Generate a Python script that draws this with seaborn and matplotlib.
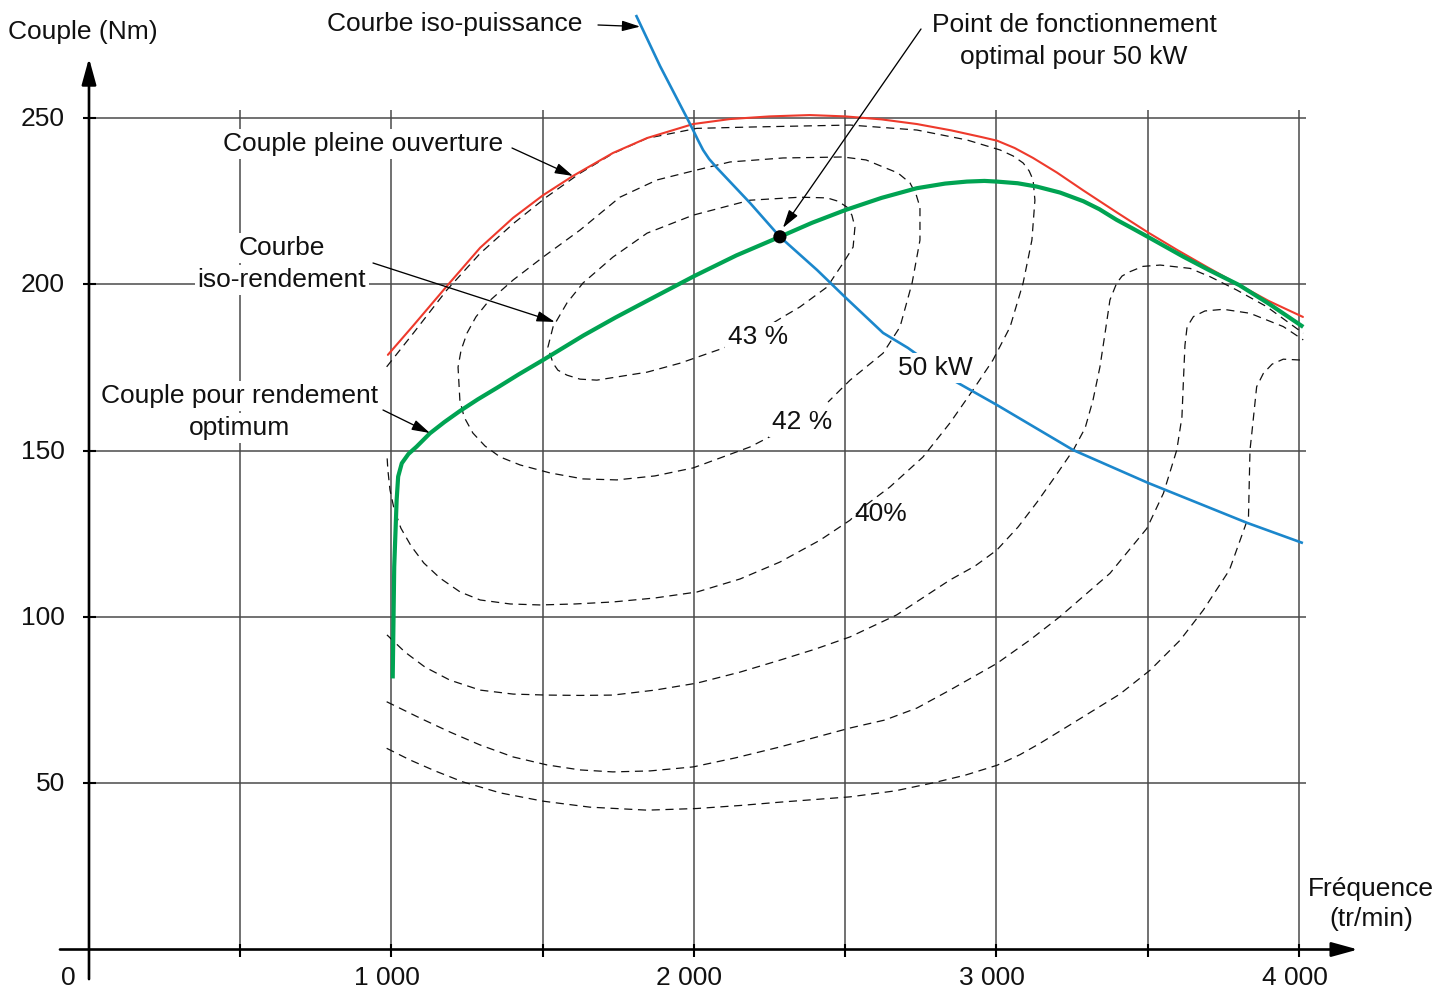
import matplotlib
matplotlib.use("Agg")
import matplotlib.pyplot as plt
from matplotlib.transforms import Affine2D, blended_transform_factory
import seaborn as sns

# ---- engine map: speed (tr/min) and torque (Nm) ----
full_load_rpm = [988, 1071, 1187, 1293, 1402, 1501, 1600, 1732, 1845, 1997, 2119, 2250,
                 2383, 2500, 2620, 2737, 2850, 2950, 3002, 3060, 3121, 3200, 3286, 3400,
                 3501, 3600, 3700, 3795, 3900, 4013]
full_load_nm = [178.8, 187.5, 199.9, 211.0, 220.0, 226.8, 232.6, 239.5, 244.0, 248.2, 249.7, 250.5,
                250.9, 250.5, 249.6, 248.2, 246.3, 244.3, 243.2, 241.0, 238.0, 233.6, 228.3, 221.5,
                215.6, 210.2, 205.0, 200.2, 195.0, 190.2]

optimum_rpm = [1004, 1009, 1017, 1022, 1034, 1056, 1083, 1127, 1175, 1226, 1285, 1349, 1420,
               1502, 1634, 1740, 1844, 2001, 2140, 2284, 2390, 2499, 2620, 2736, 2830, 2902,
               2960, 3001, 3070, 3133, 3210, 3287, 3340, 3397, 3450, 3500, 3618, 3700, 3802,
               3900, 4014]
optimum_nm = [81.5, 115.1, 135.1, 142.2, 146.2, 149.0, 151.2, 155.2, 158.6, 161.9, 165.4, 168.9, 172.9,
              177.3, 184.6, 190.0, 195.0, 202.5, 208.7, 214.3, 218.5, 222.3, 226.0, 228.9, 230.3, 230.9,
              231.1, 230.9, 230.4, 229.4, 227.6, 225.0, 222.6, 219.4, 216.8, 214.3, 208.3, 204.4, 199.8,
              194.2, 187.2]

iso_power_rpm = [1808, 1888, 1977, 1997, 2013, 2030, 2050, 2076, 2185, 2284, 2407, 2499, 2625,
                 2707, 2856, 3002, 3253, 3501, 3828, 4013]
iso_power_nm = [281.0, 265.6, 250.0, 246.4, 243.4, 240.4, 237.7, 235.0, 224.5, 214.3, 204.3, 196.2,
                185.4, 180.9, 171.2, 163.7, 150.2, 140.3, 128.3, 122.2]

op_point_rpm = [2284]
op_point_nm = [214.3]

# iso-efficiency contours
eff43_rpm = [2169, 2096, 1954, 1845, 1679, 1623, 1580, 1550, 1534, 1517, 1534, 1580, 1633, 1732,
             1845, 1997, 2185, 2350, 2440, 2476, 2506, 2522, 2532, 2526, 2493, 2440, 2350, 2294, 2245]
eff43_nm = [183.3, 180.8, 176.3, 173.6, 171.2, 171.5, 172.7, 174.2, 176.3, 181.1, 187.2, 194.4, 200.4,
            208.2, 215.4, 220.8, 225.3, 226.2, 226.0, 225.0, 223.2, 220.8, 217.2, 211.2, 206.4, 199.2,
            193.2, 190.2, 187.5]

eff42_rpm = [2268, 2185, 1997, 1871, 1745, 1633, 1524, 1425, 1359, 1309, 1269, 1240, 1226, 1220,
             1230, 1250, 1279, 1316, 1402, 1501, 1623, 1755, 1878, 2010, 2119, 2294, 2493, 2569,
             2625, 2674, 2714, 2734, 2747, 2747, 2721, 2681, 2625, 2516, 2443]
eff42_nm = [155.0, 151.1, 144.8, 142.4, 141.2, 141.5, 143.3, 145.7, 148.1, 151.4, 155.3, 160.1, 165.2,
            175.1, 180.2, 185.4, 190.2, 194.4, 201.3, 208.2, 216.3, 226.2, 231.4, 234.4, 236.8, 238.0,
            238.3, 237.4, 235.3, 233.5, 230.5, 227.1, 223.2, 213.3, 200.4, 187.2, 179.3, 171.2, 164.6]

eff40_rpm = [984, 1072, 1183, 1293, 1403, 1513, 1623, 1733, 1844, 2009, 2185, 2516, 2737, 2903,
             3012, 3055, 3088, 3108, 3121, 3127, 3117, 3088, 3045, 2988, 2922, 2846, 2757, 2648,
             2559, 2516, 2417, 2284, 2152, 2010, 1871, 1732, 1607, 1491, 1392, 1293, 1227, 1160,
             1107, 1065, 1031, 1008, 995, 988, 985]
eff40_nm = [175.2, 185.3, 198.3, 209.3, 218.3, 226.3, 233.4, 239.4, 243.9, 246.9, 247.3, 247.9, 246.4,
            243.4, 240.4, 238.6, 236.5, 234.1, 231.4, 225.3, 213.3, 200.4, 187.2, 177.2, 168.2, 158.3,
            148.1, 139.1, 133.0, 129.1, 123.1, 116.5, 111.4, 107.5, 105.7, 104.5, 103.9, 103.6, 103.9,
            105.1, 107.5, 111.7, 116.2, 121.3, 126.7, 132.7, 138.2, 144.2, 148.7]

contour4_rpm = [985, 1045, 1111, 1193, 1293, 1402, 1514, 1623, 1732, 1871, 2010, 2152, 2284, 2400,
                2516, 2670, 2846, 2929, 3001, 3071, 3134, 3193, 3254, 3293, 3319, 3342, 3359, 3375,
                3397, 3415, 3441, 3484, 3541, 3640, 3706, 3794, 3893, 4014]
contour4_nm = [94.6, 89.4, 84.9, 81.0, 78.0, 76.8, 76.5, 76.4, 76.5, 78.0, 80.1, 83.4, 87.0, 90.3,
               94.0, 100.6, 111.1, 115.3, 120.1, 127.0, 134.5, 142.1, 150.2, 156.8, 165.2, 175.2, 185.4,
               195.3, 200.3, 202.5, 203.8, 205.4, 205.8, 204.8, 202.3, 198.3, 193.3, 185.3]

contour5_rpm = [984, 1094, 1193, 1293, 1402, 1514, 1623, 1732, 1855, 1997, 2136, 2284, 2516, 2631,
                2737, 2846, 3001, 3111, 3210, 3375, 3497, 3552, 3596, 3613, 3618, 3623, 3630, 3651,
                3689, 3750, 3838, 3948, 4014]
contour5_nm = [74.5, 69.6, 65.4, 61.5, 57.9, 55.5, 54.0, 53.4, 53.7, 54.9, 57.6, 60.9, 66.6, 69.0,
               72.6, 78.0, 86.0, 93.1, 100.1, 113.1, 126.6, 137.2, 150.2, 160.1, 171.2, 181.7, 187.2,
               190.3, 192.0, 192.5, 191.3, 187.3, 183.3]

contour6_rpm = [984, 1061, 1144, 1236, 1359, 1501, 1656, 1845, 2010, 2152, 2284, 2516, 2665, 2790,
                2896, 3002, 3078, 3144, 3287, 3408, 3508, 3607, 3684, 3770, 3833, 3838, 3844, 3860,
                3882, 3911, 3948, 4014]
contour6_nm = [60.5, 57.0, 53.7, 50.4, 47.1, 44.6, 42.8, 41.9, 42.4, 43.3, 44.3, 45.9, 47.7, 50.1,
               52.4, 55.4, 58.6, 62.0, 70.0, 76.8, 84.0, 93.0, 102.1, 114.1, 130.1, 150.2, 155.2,
               169.2, 173.2, 176.0, 177.5, 177.2]

x_grid = [500, 1000, 1500, 2000, 2500, 3000, 3500, 4000]
x_major = [1000, 2000, 3000, 4000]
x_labels = ["1 000", "2 000", "3 000", "4 000"]
y_grid = [50, 100, 150, 200, 250]
y_labels = ["50", "100", "150", "200", "250"]

# ---- styling ----
sns.set_theme(style="white")
plt.rcParams["font.family"] = ["Liberation Sans", "DejaVu Sans"]

RED = "#ee3a2c"
GREEN = "#00a352"
BLUE = "#1b87cc"
INK = "#111111"
FS = 19

W, H = 1454, 994
fig = plt.figure(figsize=(W / 100, H / 100), dpi=100, facecolor="white")
ax = fig.add_axes([0, 0, 1, 1])
page = Affine2D().scale(1, -1).translate(0, H)  # layout pixels, origin at top-left

# grid
ax.vlines(x_grid, 0, 252.4, color="#4a4a4a", lw=1.1, zorder=1)
ax.hlines(y_grid, 20, 4023, color="#4a4a4a", lw=1.1, zorder=1)

# iso-efficiency contours
dash = (0, (6.5, 4.5))
for cx, cy in [(eff43_rpm, eff43_nm), (eff42_rpm, eff42_nm), (eff40_rpm, eff40_nm),
               (contour4_rpm, contour4_nm), (contour5_rpm, contour5_nm),
               (contour6_rpm, contour6_nm)]:
    sns.lineplot(x=cx, y=cy, sort=False, estimator=None, ax=ax, color=INK,
                 lw=0.9, linestyle=dash, legend=False, zorder=2)

# main curves
sns.lineplot(x=full_load_rpm, y=full_load_nm, sort=False, estimator=None, ax=ax,
             color=RED, lw=1.5, legend=False, zorder=3)
sns.lineplot(x=optimum_rpm, y=optimum_nm, sort=False, estimator=None, ax=ax,
             color=GREEN, lw=3.0, legend=False, zorder=4, solid_capstyle="butt")
sns.lineplot(x=iso_power_rpm, y=iso_power_nm, sort=False, estimator=None, ax=ax,
             color=BLUE, lw=1.9, legend=False, zorder=4.5, solid_capstyle="butt")
sns.scatterplot(x=op_point_rpm, y=op_point_nm, ax=ax, s=90, color="black",
                edgecolor="none", zorder=6, legend=False)

# axes with arrows
axis_arrow = dict(arrowstyle="-|>,head_length=0.8,head_width=0.22", color="black",
                  lw=1.9, shrinkA=0, shrinkB=0, mutation_scale=20)
ax.annotate("", xy=(4195, 0), xytext=(-96, 0), arrowprops=axis_arrow, zorder=5)
ax.annotate("", xy=(0, 268), xytext=(0, -8.9), arrowprops=axis_arrow, zorder=5)
ax.vlines(x_grid, -2.2, 1.7, color="black", lw=1.5, zorder=5)
ax.hlines(y_grid, -20, 23, color="black", lw=1.5, zorder=5)

ax.set_xlim(-294.2, 4512.4)
ax.set_ylim(-13.38, 285.5)
ax.set_axis_off()

# tick labels
xt = blended_transform_factory(ax.transData, page)
for v, s in zip(x_major, x_labels):
    ax.text(v - 15, 985, s, transform=xt, fontsize=FS, ha="center", va="baseline", color=INK)
yt = blended_transform_factory(page, ax.transData)
for v, s in zip(y_grid, y_labels):
    ax.text(65, v - 0.3, s, transform=yt, fontsize=FS, ha="right", va="center", color=INK)
ax.text(68, 985, "0", transform=page, fontsize=FS, ha="center", va="baseline", color=INK)


def label(x, y, s, ha="center", bg=False):
    kw = dict(transform=page, fontsize=FS, ha=ha, va="baseline", color=INK, zorder=7)
    if bg:
        kw["bbox"] = dict(boxstyle="square,pad=0.12", fc="white", ec="none")
    ax.text(x, y, s, **kw)


label(8, 39, "Couple (Nm)", ha="left")
label(327, 31, "Courbe iso-puissance", ha="left")
label(1074, 32, "Point de fonctionnement")
label(1074, 64, "optimal pour 50 kW")
label(363, 151, "Couple pleine ouverture", bg=True)
label(282, 255, "Courbe", bg=True)
label(282, 287, "iso-rendement", bg=True)
label(240, 403, "Couple pour rendement", bg=True)
label(240, 435, "optimum", bg=True)
label(758, 344, "43 %", bg=True)
label(802, 429, "42 %", bg=True)
label(881, 521, "40%")
label(935, 375, "50 kW", bg=True)
label(1371, 896, "Fréquence")
label(1371, 926, "(tr/min)")

# callout arrows
callout = dict(arrowstyle="-|>,head_length=0.55,head_width=0.16", color="black",
               lw=0.95, shrinkA=0, shrinkB=0, mutation_scale=20)
for tip, tail in [((1822, 277.5), (598, 25)),
                  ((1600, 232.6), (512, 148)),
                  ((1540, 188.7), (373, 263)),
                  ((1127, 155.3), (383, 410)),
                  ((2294, 217.0), (921, 29))]:
    ax.annotate("", xy=tip, xycoords="data", xytext=tail, textcoords=page,
                arrowprops=callout, zorder=6)

fig.savefig("out.png", dpi=100, facecolor="white")
